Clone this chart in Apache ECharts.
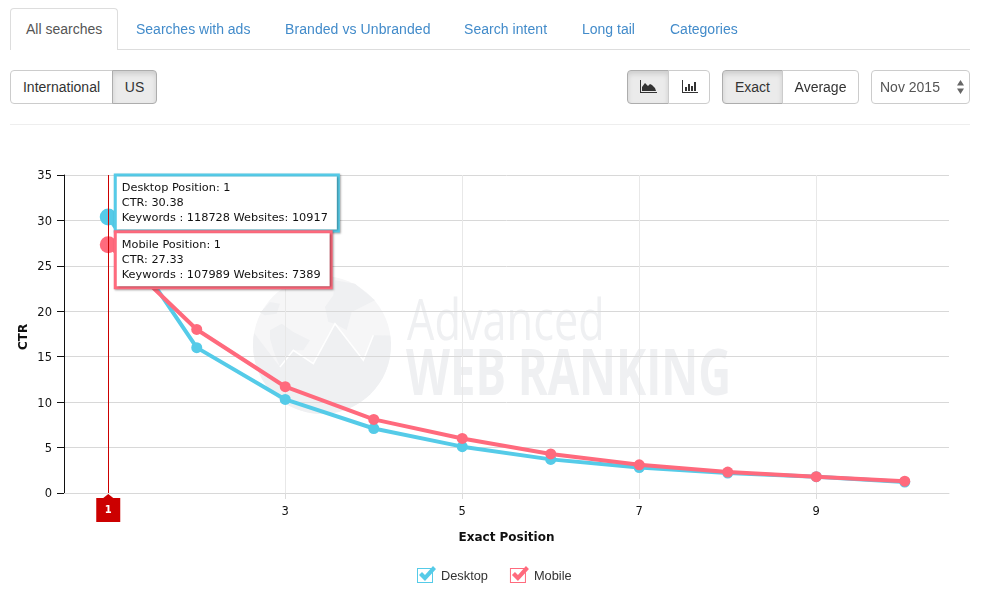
<!DOCTYPE html>
<html><head><meta charset="utf-8">
<style>
html,body{margin:0;padding:0;background:#fff;width:982px;height:597px;overflow:hidden;font-family:"Liberation Sans",Arial,sans-serif;font-size:14px;color:#333}
#chart{position:absolute;left:0;top:0;width:982px;height:597px}
.ui{position:absolute;box-sizing:border-box}
.navline{left:10px;top:49px;width:960px;height:1px;background:#ddd}
.tab{top:21px;color:#428bca;white-space:nowrap;line-height:16px}
.tab.on{left:10px;top:8px;width:108px;height:42px;background:#fff;border:1px solid #ddd;border-bottom:0;border-radius:4px 4px 0 0;color:#555;padding:12px 0 0 15px;line-height:16px}
.btn{top:70px;height:34px;border:1px solid #ccc;background:#fff;text-align:center;line-height:32px;color:#333}
.btn.act{background:#ebebeb;border-color:#adadad;box-shadow:inset 0 3px 5px rgba(0,0,0,.125)}
.l{border-radius:4px 0 0 4px}.r{border-radius:0 4px 4px 0;margin-left:0}
.hr{left:10px;top:124px;width:960px;height:1px;background:#eee}
.sel{left:871px;top:70px;width:99px;height:34px;border:1px solid #ccc;border-radius:4px;color:#555;line-height:32px;padding-left:8px}
svg{position:absolute}
</style></head><body>
<div id="chart"></div>
<div class="ui navline"></div>
<div class="ui tab on">All searches</div>
<div class="ui tab" style="left:136px">Searches with ads</div>
<div class="ui tab" style="left:285px;letter-spacing:.08px">Branded vs Unbranded</div>
<div class="ui tab" style="left:464px;letter-spacing:.05px">Search intent</div>
<div class="ui tab" style="left:582px">Long tail</div>
<div class="ui tab" style="left:670px">Categories</div>
<div class="ui btn l" style="left:10px;width:103px">International</div>
<div class="ui btn r act" style="left:112px;width:45px">US</div>
<div class="ui btn l act" style="left:627px;width:42px"><svg style="left:12px;top:9px" width="17" height="14" viewBox="0 0 17 14"><path d="M0 0H1V12H17V13H0Z M2 11V7L5 3L8 6L10 4L12 5L15 8L16 11Z" fill="#333"/></svg></div>
<div class="ui btn r" style="left:668px;width:42px"><svg style="left:13px;top:9px" width="16" height="14" viewBox="0 0 16 14"><path d="M0 0H1V12H16V13H0Z M3 7H5V11H3Z M6 4H8V11H6Z M9 6H11V11H9Z M12 2H14V11H12Z" fill="#333"/></svg></div>
<div class="ui btn l act" style="left:722px;width:61px">Exact</div>
<div class="ui btn r" style="left:782px;width:77px">Average</div>
<div class="ui sel">Nov 2015<svg style="left:84px;top:9px" width="9" height="14" viewBox="0 0 9 14"><path d="M4.5 0L8 5.500H1Z M4.500 14L1 8.500H8Z" fill="#666"/></svg></div>
<div class="ui hr"></div>
<script src="https://cdn.jsdelivr.net/npm/echarts@6/dist/echarts.min.js"></script>
<script>
const categories = ['1','2','3','4','5','6','7','8','9','10'];
const desktopCtr = [30.38,16.0,10.3,7.1,5.1,3.7,2.8,2.2,1.8,1.2];
const mobileCtr  = [27.33,18.0,11.7,8.1,6.0,4.3,3.1,2.3,1.8,1.3];
const desktopNote = ['Desktop Position: 1','CTR: 30.38','Keywords : 118728 Websites: 10917'];
const mobileNote  = ['Mobile Position: 1','CTR: 27.33','Keywords : 107989 Websites: 7389'];
const DESK='#55cbe8', MOB='#ff6a7d';
const CHECK='path://M0 2H16V17H0Z M1 3V16H15V3Z M2 9L5 6L8 9L16 0L19 3L8 15Z';
function first(v,color,note,dy){
  return {value:v,symbolSize:17,label:{show:true,position:'right',distance:0,offset:[0,dy],
    formatter:note.join('\n'),fontFamily:'DejaVu Sans',fontSize:11.3,lineHeight:15,color:'#111',
    backgroundColor:'#fff',borderColor:color,borderWidth:3,padding:[4,9,4,5],
    shadowColor:'rgba(0,0,0,.35)',shadowBlur:2,shadowOffsetX:1,shadowOffsetY:1}};
}
const chart=echarts.init(document.getElementById('chart'),null,{renderer:'canvas'});
const WM='#eff0f2', WML='#f6f6f7';
// watermark decoration: zoomed-crop coordinates mapped to the page
const wm=p=>p.map(([x,y])=>[245+x/3,272+y/3]);
const lowerArc=[];
for(let a=-8;a<=190;a+=6){const r=a*Math.PI/180;lowerArc.push([231+207*Math.cos(r),219+207*Math.sin(r)]);}
chart.setOption({
  animation:false,
  graphic:[
    {type:'circle',z:-10,shape:{cx:322,cy:345,r:69},style:{fill:WML}},
    {type:'polygon',z:-9,shape:{points:wm(lowerArc.concat([[105,285],[145,235],[205,275],[270,155],[355,265],[385,190]]))},style:{fill:WM}},
    {type:'polyline',z:-8,shape:{points:wm([[105,285],[145,235],[205,275],[270,155],[355,265],[385,190]])},style:{fill:'none',stroke:'#fff',lineWidth:1.5}},
    {type:'polygon',z:-9,shape:{points:wm([[75,175],[110,155],[145,180],[195,205],[175,235],[145,235],[105,285],[85,235],[75,200]])},style:{fill:WM}},
    {type:'polygon',z:-9,shape:{points:wm([[240,105],[265,70],[270,25],[330,35],[390,85],[360,100],[320,120],[305,175],[270,155],[250,150]])},style:{fill:WM}},
    {type:'polygon',z:-9,shape:{points:wm([[45,122],[75,90],[105,95],[95,125],[60,130]])},style:{fill:WM}},
    {type:'text',z:-7,left:407,top:295,scaleX:.76,style:{text:'Advanced',fontFamily:'Open Sans',fontSize:57,fill:WM}},
    {type:'text',z:-7,left:406,top:345,scaleX:.71,style:{text:'WEB RANKING',fontFamily:'Open Sans',fontWeight:'bold',fontSize:64,fill:WM}}
  ],
  legend:{left:412,top:561,itemWidth:19,itemHeight:17,itemGap:22,selectedMode:false,
    formatter:n=>`{a|${n}}`,
    textStyle:{fontFamily:'Liberation Sans',fontSize:12.8,color:'#333',rich:{a:{fontFamily:'Liberation Sans',fontSize:12.8,color:'#333',padding:[4,0,0,0]}}},
    data:[{name:'Desktop',icon:CHECK},{name:'Mobile',icon:CHECK}]},
  grid:{left:64,top:175,width:885,height:318,containLabel:false},
  xAxis:{type:'category',data:categories,name:'Exact Position',nameLocation:'middle',nameGap:35,
    nameTextStyle:{fontFamily:'DejaVu Sans',fontWeight:'bold',fontSize:12,color:'#111',padding:[4,0,0,0]},
    axisLine:{lineStyle:{color:'#d8d8d8',width:1}},
    axisTick:{show:true,alignWithLabel:true,interval:1,length:6,lineStyle:{color:'#dcdcdc'}},
    axisLabel:{interval:1,margin:13,fontFamily:'DejaVu Sans',fontSize:11.500,color:'#111'},
    splitLine:{show:true,alignWithLabel:true,interval:1,lineStyle:{color:'#e8e8e8'}}},
  yAxis:{type:'value',min:0,max:35,interval:5,name:'CTR',nameLocation:'middle',nameGap:34,nameMoveOverlap:false,
    nameTextStyle:{fontFamily:'DejaVu Sans',fontWeight:'bold',fontSize:12,color:'#111',padding:[0,6,0,0]},
    axisLine:{show:true,lineStyle:{color:'#111',width:1}},
    axisTick:{show:true,length:7,lineStyle:{color:'#111'}},
    axisLabel:{margin:12,fontFamily:'DejaVu Sans',fontSize:11.500,color:'#111',
      formatter:v=>`{a|${v}}`,rich:{a:{fontFamily:'DejaVu Sans',fontSize:11.500,color:'#111',padding:[3,0,0,0]}}},
    splitLine:{lineStyle:{color:'#d8d8d8'}}},
  series:[
    {name:'Desktop',type:'line',symbol:'circle',symbolSize:11,color:DESK,lineStyle:{width:4,color:DESK},z:3,
     data:desktopCtr.map((v,i)=>i===0?first(v,DESK,desktopNote,-14):v)},
    {name:'Mobile',type:'line',symbol:'circle',symbolSize:11,color:MOB,lineStyle:{width:4,color:MOB},z:4,
     data:mobileCtr.map((v,i)=>i===0?first(v,MOB,mobileNote,15):v),
     markLine:{silent:true,symbol:'none',label:{show:false},lineStyle:{color:'#cc0000',width:1,type:'solid'},data:[{xAxis:categories[0]}]},
     markPoint:{silent:true,symbol:'path://M12 0L17 4H24V28H0V4H7Z',symbolSize:[24,28],symbolOffset:[0,15],
       itemStyle:{color:'#cc0000'},
       label:{show:true,position:'inside',offset:[0,2],formatter:categories[0],color:'#fff',fontFamily:'DejaVu Sans',fontWeight:'bold',fontSize:10},
       data:[{coord:[categories[0],0],value:categories[0]}]}}
  ]
});
</script>
</body></html>
